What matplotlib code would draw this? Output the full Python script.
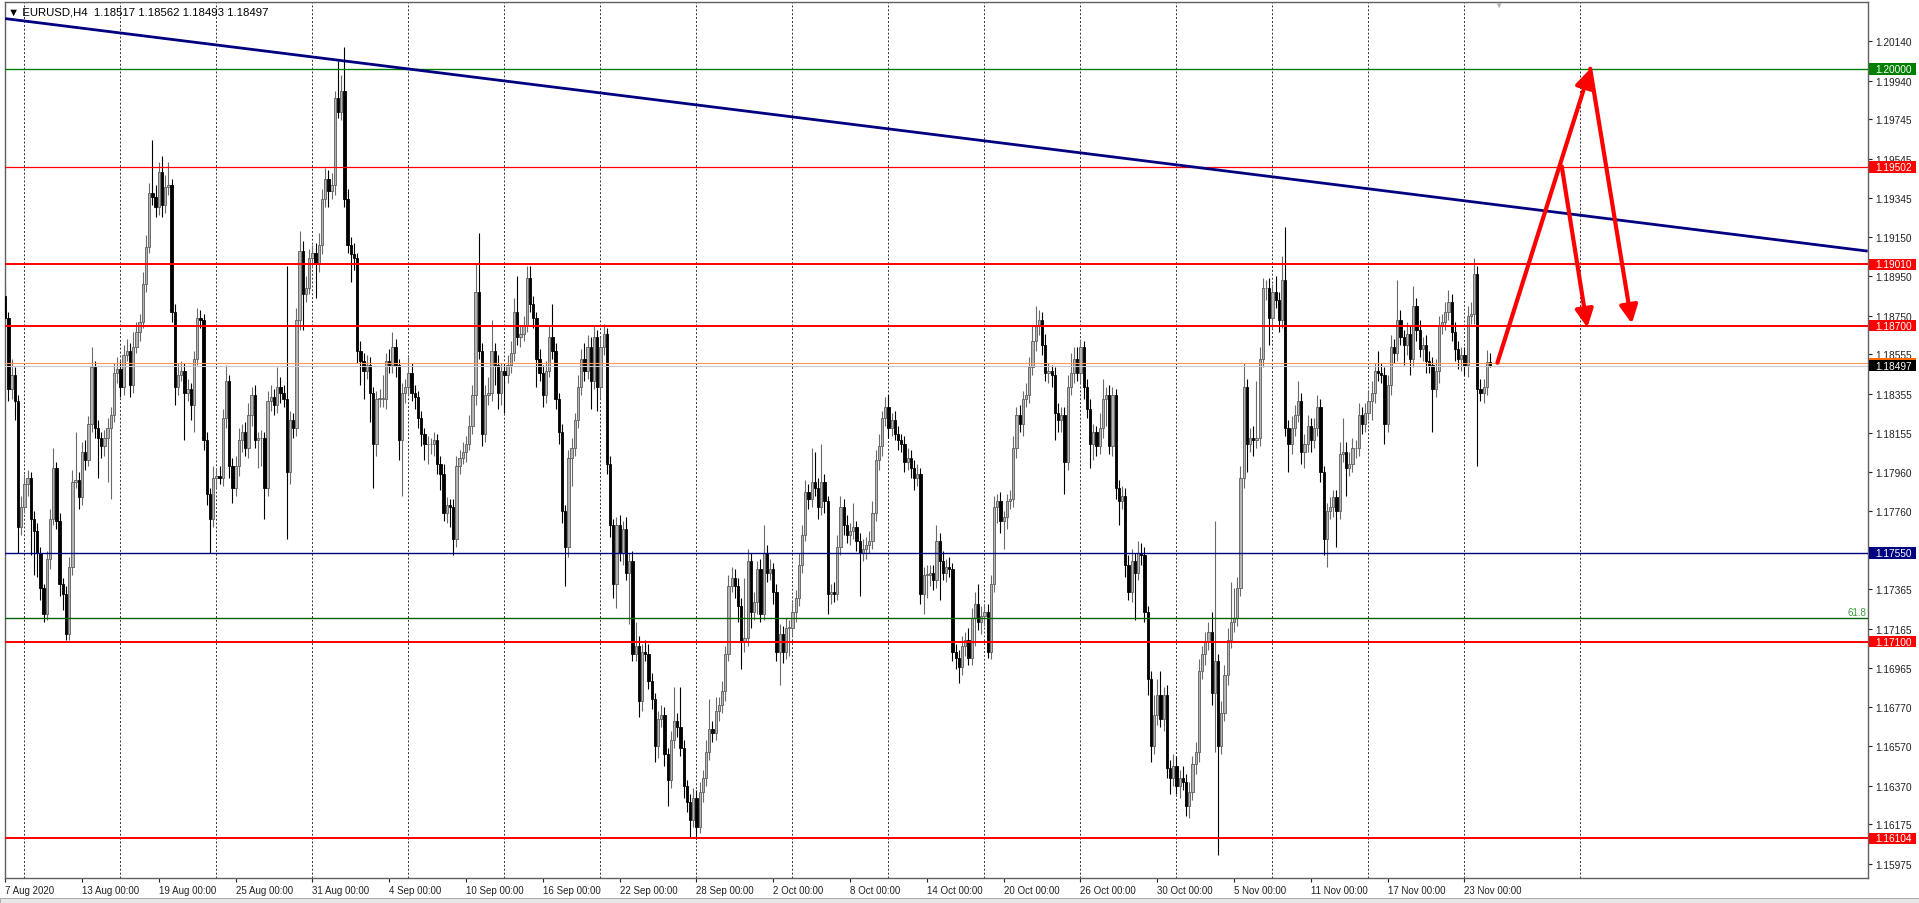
import numpy as np
import matplotlib
matplotlib.use("Agg")  # no display
import matplotlib.pyplot as plt
import matplotlib.transforms as mtransforms
from matplotlib.patches import Rectangle

plt.rcParams['font.family'] = ['Liberation Sans', 'DejaVu Sans']

# EURUSD H4 closes in pips (11874 -> 1.1874), one value per bar
first_open = 11885
aug_close = [11874, 11838, 11845, 11832, 11768, 11778, 11790, 11793, 11772, 11766,
             11755, 11737, 11724, 11752, 11772, 11798, 11771, 11739, 11734, 11714,
             11748, 11791, 11792, 11783, 11806, 11802, 11820, 11849, 11818, 11813,
             11809, 11813, 11818, 11825, 11846, 11848, 11839, 11855, 11857, 11840,
             11859, 11867, 11872, 11891, 11910, 11937, 11935, 11930, 11948, 11931,
             11940, 11941, 11877, 11839, 11845, 11847, 11836, 11838, 11830, 11853,
             11874, 11873, 11812, 11785, 11772, 11793, 11794, 11793, 11823, 11842,
             11799, 11788, 11799, 11812, 11816, 11808, 11825, 11835, 11812, 11813,
             11813, 11788, 11832, 11834, 11830, 11839, 11836, 11833, 11796, 11822,
             11818, 11873, 11908, 11886, 11889, 11904, 11907, 11901, 11911, 11934,
             11944, 11938]
sep_close = [11941, 11985, 11978, 11989, 11934, 11911, 11906, 11904, 11857, 11852,
             11847, 11850, 11836, 11810, 11833, 11833, 11833, 11852, 11850, 11859,
             11850, 11812, 11836, 11839, 11846, 11836, 11834, 11823, 11815, 11810,
             11810, 11810, 11812, 11800, 11795, 11775, 11779, 11778, 11762, 11799,
             11803, 11806, 11810, 11819, 11835, 11887, 11857, 11815, 11835, 11836,
             11857, 11850, 11836, 11847, 11845, 11850, 11856, 11877, 11864, 11866,
             11870, 11894, 11881, 11874, 11853, 11846, 11835, 11847, 11864, 11857,
             11833, 11816, 11776, 11758, 11803, 11808, 11822, 11839, 11853, 11847,
             11859, 11842, 11864, 11839, 11859, 11866, 11800, 11769, 11739, 11769,
             11755, 11767, 11745, 11751, 11704, 11708, 11680, 11705, 11704, 11690,
             11681, 11657, 11671, 11673, 11653, 11640, 11660, 11670, 11667, 11656,
             11637, 11629, 11620, 11631, 11616, 11634, 11641, 11654, 11666, 11664,
             11675, 11678, 11685, 11704, 11738, 11742, 11738, 11728, 11710, 11712,
             11751, 11725]
oct_close = [11730, 11747, 11724, 11755, 11745, 11747, 11735, 11705, 11714, 11705,
             11717, 11717, 11725, 11732, 11749, 11764, 11786, 11782, 11791, 11788,
             11778, 11791, 11781, 11734, 11735, 11734, 11758, 11778, 11769, 11764,
             11766, 11768, 11761, 11755, 11757, 11759, 11761, 11775, 11802, 11809,
             11823, 11829, 11818, 11822, 11815, 11812, 11810, 11801, 11803, 11798,
             11793, 11795, 11734, 11744, 11744, 11745, 11741, 11761, 11751, 11745,
             11748, 11747, 11705, 11702, 11697, 11708, 11711, 11702, 11722, 11729,
             11720, 11723, 11725, 11705, 11739, 11778, 11781, 11771, 11773, 11781,
             11782, 11808, 11825, 11820, 11833, 11835, 11849, 11862, 11870, 11873,
             11860, 11846, 11847, 11845, 11826, 11822, 11825, 11801, 11839, 11846,
             11853, 11846, 11859, 11839, 11828, 11810, 11816, 11809, 11818, 11833,
             11835, 11809, 11835, 11788, 11781, 11784, 11749, 11735, 11751, 11745,
             11755, 11754, 11725, 11691, 11657, 11673, 11683, 11671, 11683, 11646,
             11641, 11647]
nov_close = [11637, 11641, 11639, 11627, 11634, 11648, 11654, 11695, 11704, 11710,
             11715, 11684, 11700, 11657, 11674, 11693, 11711, 11720, 11722, 11737,
             11793, 11839, 11810, 11813, 11812, 11813, 11853, 11889, 11889, 11874,
             11887, 11883, 11873, 11893, 11818, 11810, 11818, 11825, 11832, 11806,
             11810, 11819, 11812, 11818, 11829, 11796, 11762, 11776, 11778, 11783,
             11776, 11805, 11806, 11798, 11800, 11808, 11808, 11825, 11820, 11826,
             11832, 11836, 11847, 11846, 11845, 11820, 11840, 11859, 11856, 11873,
             11864, 11860, 11866, 11853, 11880, 11868, 11858, 11860, 11852, 11850,
             11838, 11847, 11870, 11872, 11877, 11882, 11867, 11858, 11853, 11855,
             11850, 11875, 11876, 11896, 11838, 11836, 11839, 11851.7, 11849.7]

# wick lengths beyond the body, in pips
aug_up = [5, 3, 8, 4, 3, 6, 5, 4, 3, 4, 4, 3, 2, 4, 5, 10, 3, 4, 3, 4,
          5, 6, 24, 4, 5, 6, 4, 10, 3, 4, 3, 4, 5, 4, 5, 6, 4, 5, 6, 4,
          8, 5, 4, 6, 6, 5, 27, 6, 5, 8, 6, 12, 3, 4, 6, 5, 4, 5, 3, 4,
          5, 4, 3, 4, 3, 6, 4, 5, 5, 8, 3, 4, 5, 6, 4, 5, 6, 4, 5, 3,
          4, 3, 5, 6, 4, 10, 5, 4, 67, 5, 4, 6, 10, 5, 6, 5, 4, 5, 6, 5,
          6, 5]
aug_dn = [4, 6, 5, 10, 13, 4, 3, 6, 18, 22, 12, 6, 4, 3, 5, 3, 4, 6, 8, 3,
          3, 4, 3, 6, 4, 5, 3, 4, 5, 20, 6, 5, 22, 36, 4, 5, 5, 4, 3, 6,
          4, 3, 5, 3, 4, 3, 4, 5, 4, 6, 4, 4, 5, 9, 4, 3, 24, 4, 8, 14,
          3, 4, 5, 6, 17, 4, 5, 3, 4, 5, 6, 8, 4, 5, 6, 4, 5, 6, 4, 14,
          14, 16, 4, 5, 5, 4, 5, 4, 34, 6, 5, 4, 5, 18, 4, 3, 5, 17, 4, 5,
          4, 8]
sep_up = [6, 4, 19, 8, 22, 5, 4, 6, 3, 5, 4, 5, 4, 3, 4, 5, 12, 4, 6, 8,
          4, 3, 5, 4, 8, 5, 4, 3, 4, 3, 4, 3, 4, 3, 4, 5, 4, 3, 4, 5,
          4, 5, 4, 6, 5, 14, 30, 4, 5, 8, 16, 4, 5, 4, 4, 5, 6, 7, 18, 4,
          5, 6, 6, 4, 3, 5, 4, 5, 6, 17, 4, 3, 4, 3, 4, 5, 4, 6, 5, 8,
          6, 5, 6, 4, 5, 5, 3, 4, 3, 4, 5, 4, 6, 4, 5, 12, 5, 4, 6, 5,
          4, 3, 4, 5, 4, 3, 5, 17, 4, 20, 4, 3, 4, 5, 4, 5, 4, 6, 15, 4,
          7, 4, 5, 4, 6, 6, 5, 4, 4, 30, 6, 4]
sep_dn = [4, 5, 3, 4, 4, 4, 14, 6, 6, 12, 14, 4, 15, 22, 6, 4, 4, 5, 4, 4,
          6, 10, 28, 5, 4, 4, 6, 5, 6, 8, 10, 5, 6, 5, 8, 4, 5, 10, 8, 4,
          4, 3, 5, 3, 4, 5, 4, 6, 4, 5, 4, 10, 8, 6, 19, 4, 4, 4, 4, 5,
          4, 3, 4, 5, 14, 4, 6, 4, 3, 4, 5, 6, 6, 20, 5, 14, 4, 4, 4, 5,
          4, 14, 4, 12, 6, 4, 5, 6, 7, 12, 4, 6, 4, 26, 4, 4, 8, 5, 4, 4,
          5, 8, 6, 4, 6, 13, 4, 4, 5, 4, 6, 5, 9, 4, 6, 3, 5, 4, 4, 5,
          4, 5, 4, 5, 4, 3, 6, 8, 14, 5, 4, 8]
oct_up = [5, 4, 5, 14, 4, 5, 3, 4, 5, 4, 5, 4, 5, 4, 6, 5, 6, 4, 17, 15,
          5, 19, 4, 3, 4, 5, 6, 6, 4, 5, 4, 12, 3, 4, 5, 4, 5, 6, 5, 6,
          4, 5, 6, 4, 5, 4, 3, 4, 5, 4, 4, 5, 3, 4, 5, 4, 4, 8, 4, 5,
          4, 5, 3, 4, 4, 5, 4, 6, 5, 6, 10, 5, 4, 4, 5, 6, 4, 5, 3, 4,
          5, 6, 4, 5, 4, 6, 5, 8, 10, 5, 4, 6, 4, 3, 4, 5, 4, 4, 6, 10,
          6, 6, 4, 3, 4, 5, 4, 3, 8, 10, 4, 5, 4, 3, 4, 5, 4, 5, 6, 4,
          6, 5, 4, 3, 4, 10, 8, 12, 4, 5, 4, 6]
oct_dn = [4, 6, 4, 3, 5, 4, 6, 5, 17, 6, 4, 14, 4, 5, 4, 4, 3, 5, 4, 4,
          6, 4, 6, 10, 5, 4, 3, 4, 5, 4, 5, 4, 5, 22, 4, 5, 4, 4, 4, 5,
          5, 4, 5, 4, 3, 5, 4, 5, 4, 5, 6, 4, 5, 10, 12, 6, 5, 4, 20, 4,
          5, 4, 5, 6, 8, 4, 5, 4, 4, 14, 4, 6, 5, 3, 4, 4, 8, 6, 14, 6,
          4, 4, 5, 4, 6, 4, 4, 4, 5, 5, 5, 4, 5, 6, 14, 6, 6, 16, 4, 4,
          5, 4, 5, 6, 5, 12, 8, 5, 4, 5, 14, 4, 5, 6, 12, 4, 6, 4, 5, 24,
          4, 5, 5, 8, 8, 4, 5, 4, 6, 5, 8, 4]
nov_up = [5, 4, 6, 4, 5, 4, 5, 6, 4, 5, 5, 10, 71, 4, 6, 5, 6, 20, 15, 6,
          6, 12, 4, 5, 6, 29, 6, 5, 4, 5, 4, 8, 4, 12, 27, 4, 6, 5, 10, 4,
          5, 6, 4, 5, 6, 4, 3, 4, 5, 4, 4, 6, 17, 5, 6, 5, 4, 6, 4, 5,
          5, 6, 4, 10, 5, 4, 5, 6, 4, 20, 5, 4, 6, 4, 10, 4, 5, 4, 5, 5,
          4, 6, 5, 4, 5, 6, 4, 5, 4, 4, 4, 5, 6, 8, 4, 5, 4, 6, 4.5]
nov_dn = [4, 6, 4, 5, 6, 4, 5, 5, 4, 6, 4, 6, 30, 55, 4, 4, 5, 4, 5, 4,
          4, 5, 14, 4, 8, 4, 4, 4, 6, 14, 5, 4, 6, 4, 4, 14, 5, 4, 4, 6,
          8, 4, 6, 4, 4, 5, 8, 14, 4, 5, 18, 4, 4, 14, 4, 4, 5, 4, 5, 4,
          4, 10, 5, 4, 4, 10, 4, 5, 5, 4, 4, 10, 5, 8, 4, 6, 4, 6, 6, 4,
          22, 4, 6, 4, 4, 4, 5, 6, 5, 6, 5, 6, 4, 5, 39, 4, 5, 4, 0.4]

date_labels = ["7 Aug 2020", "13 Aug 00:00", "19 Aug 00:00", "25 Aug 00:00", "31 Aug 00:00",
               "4 Sep 00:00", "10 Sep 00:00", "16 Sep 00:00", "22 Sep 00:00", "28 Sep 00:00",
               "2 Oct 00:00", "8 Oct 00:00", "14 Oct 00:00", "20 Oct 00:00", "26 Oct 00:00",
               "30 Oct 00:00", "5 Nov 00:00", "11 Nov 00:00", "17 Nov 00:00", "23 Nov 00:00"]
price_ticks = [1.20140, 1.19940, 1.19745, 1.19545, 1.19345, 1.19150, 1.18950, 1.18750,
               1.18555, 1.18355, 1.18155, 1.17960, 1.17760, 1.17560, 1.17365, 1.17165,
               1.16965, 1.16770, 1.16570, 1.16370, 1.16175, 1.15975]

# drawn objects
green_level = 1.20000
red_levels = [1.19502, 1.19010, 1.18700, 1.17100, 1.16104]
blue_level = 1.17550
fib_level = 1.17219
bid_price = 1.18497
ask_price = 1.18510
trend_bars = [0, 582]
trend_prices = [1.20254, 1.19077]
arrow_up = [(466.3, 1.18512), (495.3, 1.20000)]
arrow_down_a = [(486.4, 1.19506), (494.4, 1.18690)]
arrow_down_b = [(495.3, 1.20000), (508.3, 1.18710)]

close = np.array(aug_close + sep_close + oct_close + nov_close, dtype=float) / 1e4
up = np.array(aug_up + sep_up + oct_up + nov_up, dtype=float) / 1e4
dn = np.array(aug_dn + sep_dn + oct_dn + nov_dn, dtype=float) / 1e4
opn = np.concatenate([[first_open / 1e4], close[:-1]])
high = np.maximum(opn, close) + up
low = np.minimum(opn, close) - dn
x = np.arange(len(close))
bull = close >= opn

fig = plt.figure(figsize=(19.19, 9.04), dpi=100)
ax = fig.add_axes([5 / 1919, 25 / 904, 1863 / 1919, 876 / 904])
ax.set_xlim(-0.06, 582.1)
ax.set_ylim(1.15904, 1.20338)
for s in ax.spines.values():
    s.set_color("#606060")
    s.set_linewidth(1.0)

# dotted vertical grid
for gx in list(range(6, 457, 30)) + [492]:
    ax.axvline(gx, color="#303030", lw=0.7, ls=(0, (2, 2)), zorder=1)

# candles
bottom = np.minimum(opn, close)
body = np.maximum(np.abs(close - opn), 0.00002)
ax.vlines(x[bull], low[bull], high[bull], color="#6a6a6a", lw=0.8, zorder=2)
ax.vlines(x[~bull], low[~bull], high[~bull], color="black", lw=0.8, zorder=2)
ax.bar(x[bull], body[bull], bottom=bottom[bull], width=0.7, color="#b4b4b4",
       edgecolor="#5c5c5c", linewidth=0.6, zorder=3)
ax.bar(x[~bull], body[~bull], bottom=bottom[~bull], width=0.7, color="black",
       edgecolor="black", linewidth=0.6, zorder=3)

# horizontal levels
ax.axhline(green_level, color="#008000", lw=1.0, zorder=4)
for p in red_levels:
    ax.axhline(p, color="#ff0000", lw=0.9 if p == 1.19502 else 1.4, zorder=4)
ax.axhline(blue_level, color="#000080", lw=1.0, zorder=4)
ax.axhline(fib_level, color="#006400", lw=1.0, zorder=4)
ax.axhline(ask_price, color="#ff9a5a", lw=0.8, zorder=4)
ax.axhline(bid_price, color="#c8c8c8", lw=0.8, zorder=4)

# trend line
ax.plot(trend_bars, trend_prices, color="#000080", lw=2.0, zorder=5, solid_capstyle="butt")

# forecast arrows
for (x0, y0), (x1, y1) in [arrow_up, arrow_down_a, arrow_down_b]:
    ax.annotate("", xy=(x1, y1), xytext=(x0, y0),
                arrowprops=dict(arrowstyle="-|>,head_length=0.6,head_width=0.3",
                                mutation_scale=18, color="#ff0000", lw=3.0,
                                shrinkA=0, shrinkB=0), zorder=6)

trans = mtransforms.blended_transform_factory(ax.transAxes, ax.transData)
ax.text(0.9989, fib_level + 0.00004, "61.8", transform=trans, ha="right", va="bottom",
        color="#3c9a3c", fontsize=7, zorder=6)

# title
ax.text(0.0016, 0.9886, "\u25bc EURUSD,H4  1.18517 1.18562 1.18493 1.18497",
        transform=ax.transAxes, ha="left", va="center", fontsize=8.2, color="black", zorder=7)
ax.text(len(close) + 1.5, 1.0, "\u25bc", transform=mtransforms.blended_transform_factory(ax.transData, ax.transAxes),
        ha="center", va="top", fontsize=6, color="#b0b0b0", zorder=7)

# price axis
ax.yaxis.tick_right()
ax.set_yticks(price_ticks)
ax.set_yticklabels([f"{t:.5f}" for t in price_ticks])
ax.tick_params(axis="y", length=3, width=0.8, pad=2, labelsize=7.3, colors="#222222")

# time axis
ax.set_xticks(np.arange(len(date_labels)) * 24)
ax.set_xticklabels(date_labels)
ax.tick_params(axis="x", length=3, width=0.8, pad=2, labelsize=7, colors="#222222")
for lbl in ax.get_xticklabels():
    lbl.set_ha("left")

# coloured price tags on the axis
box_h = 0.00058


def price_tag(price, color, txt_color="white"):
    ax.add_patch(Rectangle((1.0008, price - box_h / 2), 0.0252, box_h, transform=trans,
                           facecolor=color, edgecolor="none", clip_on=False, zorder=8))
    ax.text(1.0038, price, f"{price:.5f}", transform=trans, ha="left", va="center",
            fontsize=7.3, color=txt_color, clip_on=False, zorder=9)


price_tag(green_level, "#008000")
for p in red_levels:
    price_tag(p, "#ff0000")
price_tag(blue_level, "#000080")
ax.add_patch(Rectangle((1.0008, bid_price + box_h / 2), 0.0252, 0.00012, transform=trans,
                       facecolor="#ff6a00", edgecolor="none", clip_on=False, zorder=8))
price_tag(bid_price, "black")

# terminal tab strip at the very bottom
fig.add_artist(Rectangle((0, 0), 1, 5 / 904, transform=fig.transFigure,
                         facecolor="#e6e6e6", edgecolor="#a0a0a0", lw=0.6))

fig.savefig("out.png", dpi=100)
